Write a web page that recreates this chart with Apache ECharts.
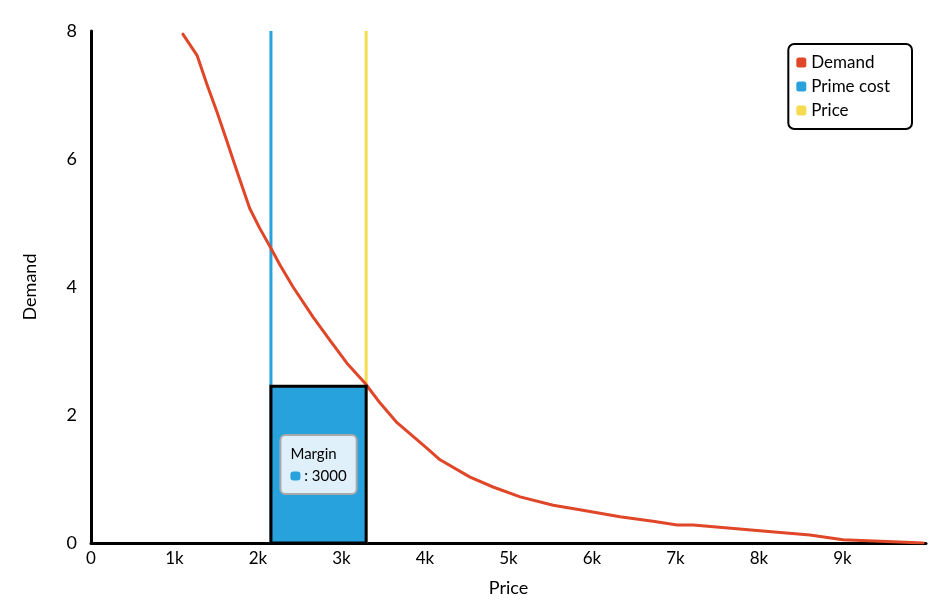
<!DOCTYPE html>
<html>
<head>
<meta charset="utf-8">
<script src="https://cdn.jsdelivr.net/npm/echarts@6/dist/echarts.min.js"></script>
<style>html,body{margin:0;padding:0;background:#fff}#c{width:937px;height:611px}</style>
</head>
<body>
<div id="c"></div>
<script>
var demandPrice = [1100,1270,1390,1510,1630,1750,1900,2020,2145,2265,2420,2660,2860,3065,3280,3460,3665,4025,4180,4540,4815,5140,5535,5855,6335,6730,7020,7210,8010,8610,9005,9605,9965];
var demandValue = [7.95,7.62,7.16,6.73,6.27,5.80,5.23,4.92,4.63,4.34,4.00,3.53,3.17,2.81,2.50,2.19,1.88,1.48,1.30,1.03,0.875,0.72,0.59,0.52,0.41,0.34,0.28,0.28,0.19,0.125,0.05,0.02,0.0];
var primeCost = [2155];
var price = [3295];
var demandAtPrice = [2.45];
var margin = [3000];
var yTop = [8];

var font = 'Lato';
var demandData = demandPrice.map(function (p, i) { return [p, demandValue[i]]; });

var chart = echarts.init(document.getElementById('c'));
chart.setOption({
  animation: false,
  textStyle: { fontFamily: font },
  grid: { left: 91, right: 11, top: 31, bottom: 68 },
  legend: {
    orient: 'vertical', right: 25, top: 44,
    padding: [10, 22, 10, 8],
    borderColor: '#000', borderWidth: 2, borderRadius: 6,
    backgroundColor: '#fff',
    icon: 'roundRect', itemWidth: 10, itemHeight: 10, itemGap: 7,
    textStyle: { fontFamily: font, fontSize: 17, color: '#000' },
    data: ['Demand', 'Prime cost', 'Price']
  },
  xAxis: {
    type: 'value', min: 0, max: 10000, interval: 1000,
    name: 'Price', nameLocation: 'middle', nameGap: 36,
    nameTextStyle: { fontFamily: font, fontSize: 18, color: '#000' },
    axisLine: { lineStyle: { color: '#000', width: 3 } },
    axisTick: { show: false },
    splitLine: { show: false },
    axisLabel: {
      showMaxLabel: false, margin: 7, fontSize: 17, color: '#000', fontFamily: font,
      formatter: function (v) { return v === 0 ? '0' : (v / 1000) + 'k'; }
    }
  },
  yAxis: {
    type: 'value', min: 0, max: 8, interval: 2,
    name: 'Demand', nameLocation: 'middle', nameGap: 52,
    nameTextStyle: { fontFamily: font, fontSize: 18, color: '#000' },
    axisLine: { show: true, lineStyle: { color: '#000', width: 3 } },
    axisTick: { show: false },
    splitLine: { show: false },
    axisLabel: { margin: 14, fontSize: 18, color: '#000', fontFamily: font }
  },
  series: [
    {
      name: 'Prime cost', type: 'line', z: 2,
      color: '#27a2dc', showSymbol: false, symbol: 'none',
      lineStyle: { width: 3, color: '#27a2dc' },
      data: [[primeCost[0], 0], [primeCost[0], yTop[0]]]
    },
    {
      name: 'Price', type: 'line', z: 2,
      color: '#f4db4f', showSymbol: false, symbol: 'none',
      lineStyle: { width: 3, color: '#f4db4f' },
      data: [[price[0], 0], [price[0], yTop[0]]]
    },
    {
      name: 'Demand', type: 'line', z: 3,
      color: '#e04628', showSymbol: false, symbol: 'none', smooth: false,
      lineStyle: { width: 3, color: '#e04628', join: 'round', cap: 'round' },
      data: demandData
    },
    {
      name: 'Margin', type: 'line', z: 10, data: [],
      markArea: {
        z: 10, silent: true,
        itemStyle: { color: '#27a2dc', opacity: 1, borderColor: '#000', borderWidth: 3 },
        label: {
          show: true, position: 'inside',
          backgroundColor: '#e0f0fb', borderColor: '#a9a9a9', borderWidth: 2, borderRadius: 4,
          padding: [7, 9, 6, 9], color: '#000', fontFamily: font, fontSize: 15,
          formatter: '{t|Margin}\n{i|}{v| : ' + margin[0] + '}',
          rich: {
            t: { fontFamily: font, fontSize: 15, color: '#000', lineHeight: 22, align: 'left' },
            i: { width: 10, height: 9, backgroundColor: '#27a2dc', borderRadius: 3 },
            v: { fontFamily: font, fontSize: 15, color: '#000', lineHeight: 22 }
          }
        },
        data: [[{ coord: [primeCost[0], 0] }, { coord: [price[0], demandAtPrice[0]] }]]
      }
    }
  ]
});
</script>
</body>
</html>
